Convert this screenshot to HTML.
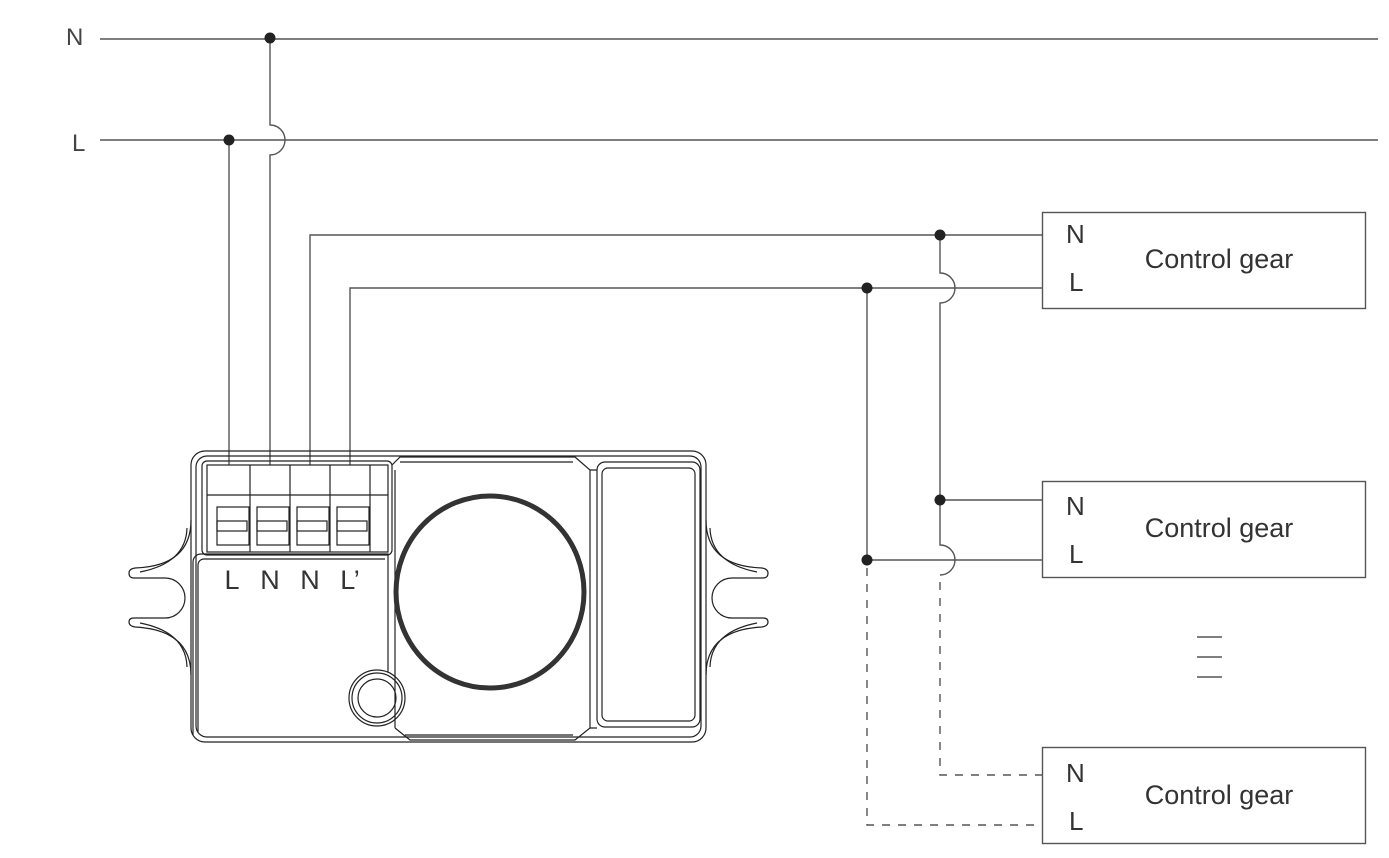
<!DOCTYPE html>
<html><head><style>html,body{margin:0;padding:0;background:#fff}svg{display:block}</style></head>
<body>
<svg width="1389" height="858" viewBox="0 0 1389 858" xmlns="http://www.w3.org/2000/svg" font-family="Liberation Sans, sans-serif">
<g stroke="#555" stroke-width="1.4" fill="none">
<line x1="100" y1="39" x2="1378" y2="39"/>
<line x1="100" y1="140" x2="1378" y2="140"/>
<path d="M270 39 V125 A15 15 0 0 1 270 155 V465"/>
<line x1="229" y1="140" x2="229" y2="465"/>
<path d="M310 465 V235 H1042"/>
<path d="M350 465 V288 H1042"/>
<path d="M940 235 V273 A15 15 0 0 1 940 303 V545 A15 15 0 0 1 940 575"/>
<line x1="940" y1="500" x2="1042" y2="500"/>
<line x1="867" y1="288" x2="867" y2="560"/>
<line x1="867" y1="560" x2="1042" y2="560"/>
<g stroke-dasharray="8,8">
<path d="M940 582 V775 H1042"/>
<path d="M867 568 V825 H1042"/>
</g>
<rect x="1042.5" y="212.5" width="323" height="96"/>
<rect x="1042.5" y="481.5" width="323" height="96"/>
<rect x="1042.5" y="747.5" width="323" height="96"/>
<line x1="1197" y1="637" x2="1222" y2="637"/>
<line x1="1197" y1="657" x2="1222" y2="657"/>
<line x1="1197" y1="677" x2="1222" y2="677"/>
</g>
<g fill="#222">
<circle cx="270" cy="38" r="5.5"/><circle cx="229" cy="140" r="5.5"/>
<circle cx="940" cy="235" r="5.5"/><circle cx="867" cy="288" r="5.5"/>
<circle cx="940" cy="500" r="5.5"/><circle cx="867" cy="560" r="5.5"/>
</g>
<g fill="#444" font-size="24">
<text x="66" y="45">N</text><text x="72" y="151">L</text>
</g>
<g fill="#333" font-size="26">
<text x="1066" y="243">N</text><text x="1069" y="291">L</text>
<text x="1219" y="268" text-anchor="middle" font-size="27">Control gear</text>
<text x="1066" y="515">N</text><text x="1069" y="563">L</text>
<text x="1219" y="537" text-anchor="middle" font-size="27">Control gear</text>
<text x="1066" y="782">N</text><text x="1069" y="830">L</text>
<text x="1219" y="804" text-anchor="middle" font-size="27">Control gear</text>
</g>
<g stroke="#222" stroke-width="1.2" fill="none">
<rect x="191" y="451" width="515" height="291" rx="14"/>
<rect x="196" y="456" width="505" height="281" rx="11"/>
<rect x="202" y="461" width="190" height="94" rx="5"/>
<rect x="207" y="465" width="181" height="87"/>
<line x1="207" y1="495" x2="388" y2="495"/>
<line x1="250" y1="465" x2="250" y2="552"/><line x1="290" y1="465" x2="290" y2="552"/>
<line x1="330" y1="465" x2="330" y2="552"/><line x1="370" y1="465" x2="370" y2="552"/>
<g>
<rect x="217" y="507" width="32" height="38"/><rect x="217" y="521" width="30" height="10"/>
<rect x="257" y="507" width="32" height="38"/><rect x="257" y="521" width="30" height="10"/>
<rect x="297" y="507" width="32" height="38"/><rect x="297" y="521" width="30" height="10"/>
<rect x="337" y="507" width="32" height="38"/><rect x="337" y="521" width="30" height="10"/>
</g>
<path d="M193 735 V562 A8 8 0 0 1 201 554 H388 V672"/>
<path d="M198 732 V565 A6 6 0 0 1 204 559 H385"/>
<path d="M395 470 V728"/>
<path d="M392 465 L400 457 H575 L590 470 V728 L575 740 H410 L395 728"/>
<path d="M400 462 H573"/>
<path d="M405 735 H573"/>
<path d="M590 470 H597 M590 728 H597"/>
<rect x="597" y="462" width="103" height="265" rx="8"/>
<rect x="602" y="468" width="93" height="253" rx="6"/>
<circle cx="377" cy="698" r="28"/><circle cx="377" cy="698" r="25"/><circle cx="377" cy="698" r="19"/>
<path d="M191 520 Q191 566 135 568 Q129 569 129 573 Q129 578 134 578 H165 A20 20 0 0 1 165 618 H134 Q129 618 129 622 Q129 626 135 627 Q191 630 191 675"/>
<path d="M187 528 Q186 563 140 572 M187 667 Q186 632 140 623"/>
<path d="M706 520 Q706 566 762 568 Q768 569 768 573 Q768 578 763 578 H732 A20 20 0 0 0 732 618 H763 Q768 618 768 622 Q768 626 762 627 Q706 630 706 675"/>
<path d="M710 528 Q711 563 757 572 M710 667 Q711 632 757 623"/>
</g>
<ellipse cx="490" cy="592" rx="94" ry="96" stroke="#333" stroke-width="5" fill="none"/>
<g fill="#333" font-size="27">
<text x="232" y="589" text-anchor="middle">L</text>
<text x="270" y="589" text-anchor="middle">N</text>
<text x="310" y="589" text-anchor="middle">N</text>
<text x="350" y="589" text-anchor="middle">L’</text>
</g>
</svg>
</body></html>
